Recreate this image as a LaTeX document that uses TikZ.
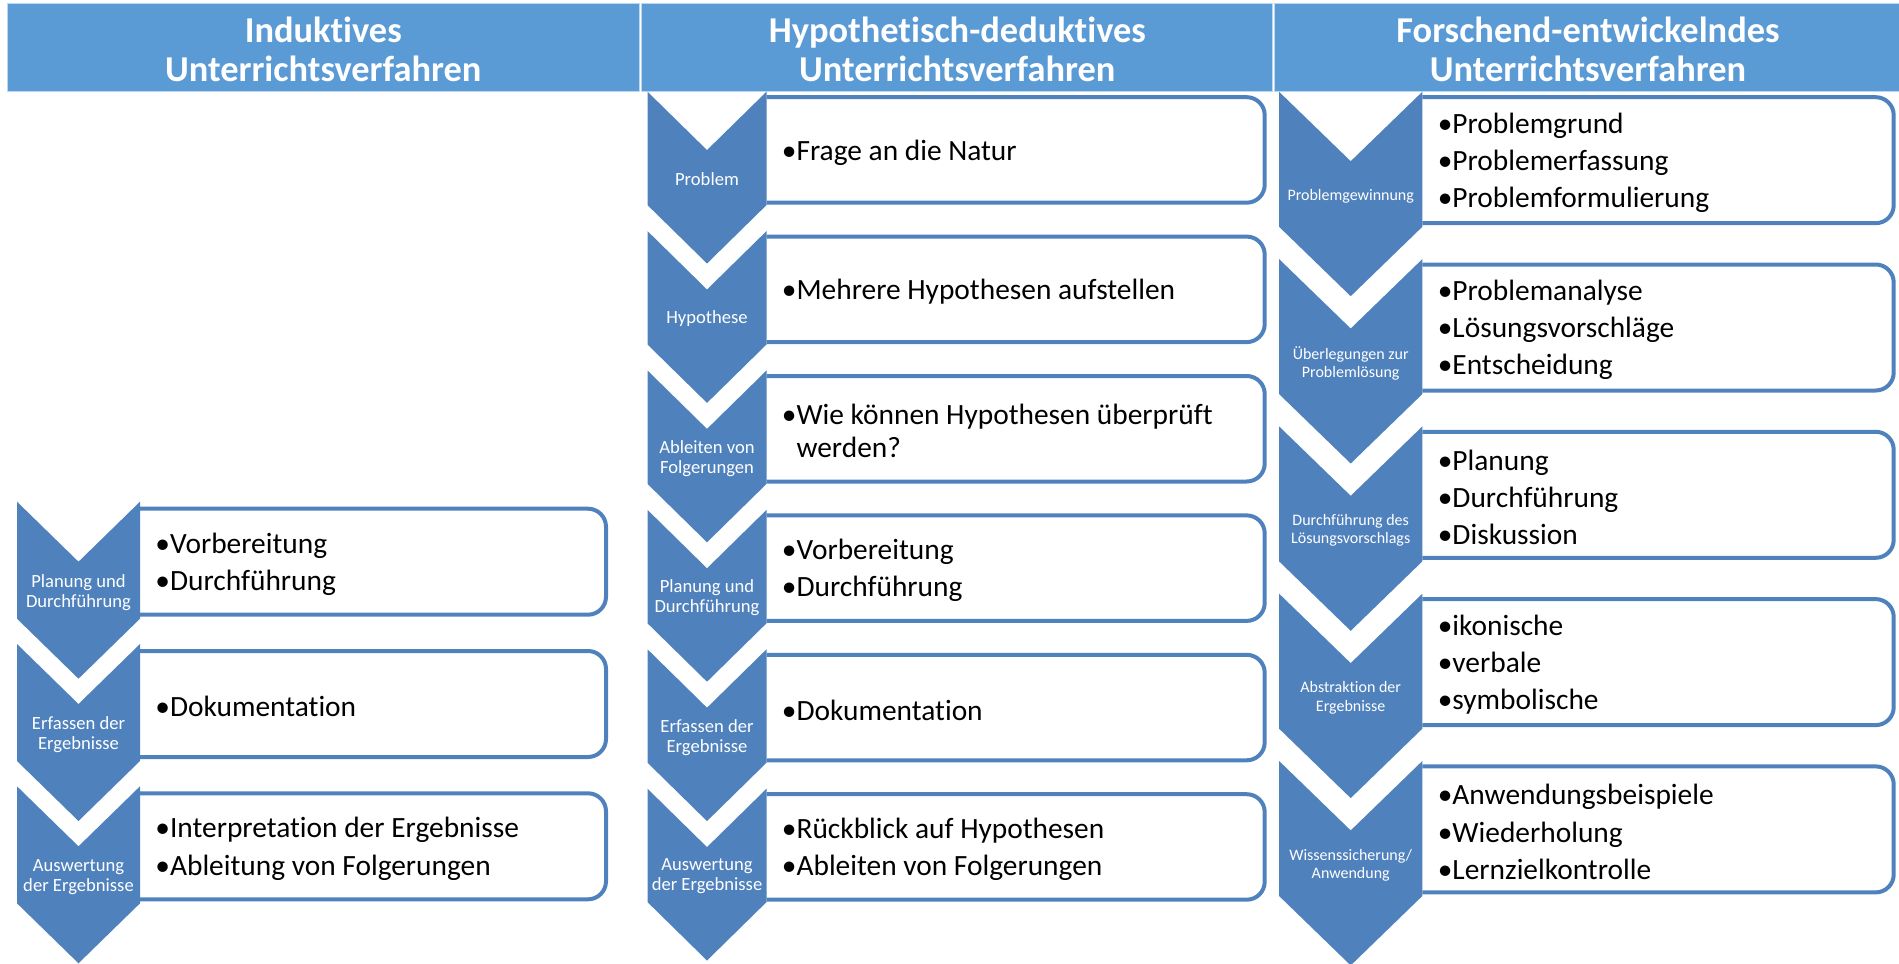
\documentclass[tikz,border=0pt]{standalone}
\usepackage{fontspec}
\setmainfont{Carlito}[Ligatures=NoCommon]

\definecolor{chevblue}{HTML}{4F81BD}
\definecolor{hdrblue}{HTML}{5B9BD5}
\definecolor{hdredge}{HTML}{BDD7EE}

% column geometry (set per column before drawing its stages)
\def\colL{0}\def\colR{0}\def\boxR{0}\def\topY{0}\def\stepY{0}
\def\chDep{0}\def\chBody{0}\def\bxTop{0}\def\bxBot{0}
\def\lblfont{\fontsize{9.3}{10}\selectfont}

% one stage: box with items, chevron with label on top
% #1 name, #2 index in column, #3 chevron label, #4 items
\newcommand{\stage}[4]{%
  \pgfmathsetmacro\yt{\topY+#2*\stepY}%
  \pgfmathsetmacro\xm{(\colL+\colR)/2}%
  \draw[boxline] (\colR,\yt+\bxTop) -- (\boxR,\yt+\bxTop) -- (\boxR,\yt+\bxBot) -- (\colR,\yt+\bxBot);
  \fill[chevblue] (\colL,\yt) -- (\xm,\yt+\chDep) -- (\colR,\yt) -- (\colR,\yt+\chBody)
     -- (\xm,\yt+\chBody+\chDep) -- (\colL,\yt+\chBody) -- cycle;
  \node[lbl] (#1-l) at (\xm,{\yt+(\chDep+\chBody)/2+2}) {#3};
  \node[items] (#1-t) at (\colR+15,{\yt+(\bxTop+\bxBot)/2+2.5}) {#4};
}

\begin{document}
\begin{tikzpicture}[x=0.5pt,y=-0.5pt,
  boxline/.style={draw=chevblue,line width=2pt,rounded corners=9pt},
  lbl/.style={text=white,font=\lblfont,align=center,inner sep=0pt},
  items/.style={anchor=west,align=left,inner sep=0pt,
    font=\fontsize{14.7}{16.4}\selectfont},
  hdrbox/.style={fill=hdrblue,draw=hdredge,line width=0.5pt},
  hdrtext/.style={text=white,align=center,inner sep=0pt,
    font=\bfseries\fontsize{18.2}{19.5}\selectfont}]

\useasboundingbox (0,0) rectangle (1899,963);
\clip (0,0) rectangle (1899,963);

% header row
\draw[hdrbox] (7.6,4) rectangle (639,92);
\draw[hdrbox] (641.8,4) rectangle (1272.7,92);
\draw[hdrbox] (1274.7,4) rectangle (1899.5,92);
\node[hdrtext] (h1) at (323.3,49) {Induktives\\Unterrichtsverfahren};
\node[hdrtext] (h2) at (957.3,49) {Hypothetisch-deduktives\\Unterrichtsverfahren};
\node[hdrtext] (h3) at (1588,49) {Forschend-entwickelndes\\Unterrichtsverfahren};

% inductive method
\def\colL{17}\def\colR{140}\def\boxR{606}\def\topY{501.7}\def\stepY{142.3}
\def\chDep{60}\def\chBody{117}\def\bxTop{7}\def\bxBot{113}
\def\lblfont{\fontsize{9.3}{10}\selectfont}
\stage{ia}{0}{Planung und\\Durchführung}{•Vorbereitung\\[2.2pt]•Durchführung}
\stage{ib}{1}{Erfassen der\\Ergebnisse}{•Dokumentation}
\stage{ic}{2}{Auswertung\\der Ergebnisse}{•Interpretation der Ergebnisse\\[2.2pt]•Ableitung von Folgerungen}

% hypothetico-deductive method
\def\colL{647.5}\def\colR{766.5}\def\boxR{1264.7}\def\topY{91.7}\def\stepY{139.4}
\def\chDep{58.4}\def\chBody{113.4}\def\bxTop{5.5}\def\bxBot{111}
\stage{ha}{0}{Problem}{•Frage an die Natur}
\stage{hb}{1}{Hypothese}{•Mehrere Hypothesen aufstellen}
\stage{hc}{2}{Ableiten von\\Folgerungen}{•Wie können Hypothesen überprüft\\\phantom{•}werden?}
\stage{hd}{3}{Planung und\\Durchführung}{•Vorbereitung\\[2.2pt]•Durchführung}
\stage{he}{4}{Erfassen der\\Ergebnisse}{•Dokumentation}
\stage{hf}{5}{Auswertung\\der Ergebnisse}{•Rückblick auf Hypothesen\\[2.2pt]•Ableiten von Folgerungen}

% research-based method
\def\colL{1279}\def\colR{1422.4}\def\boxR{1893.7}\def\topY{91.7}\def\stepY{167.3}
\def\chDep{69.5}\def\chBody{135}\def\bxTop{5.5}\def\bxBot{131.5}
\def\lblfont{\fontsize{8}{9.1}\selectfont}
\stage{fa}{0}{Problemgewinnung}{•Problemgrund\\[2.2pt]•Problemerfassung\\[2.2pt]•Problemformulierung}
\stage{fb}{1}{Überlegungen zur\\Problemlösung}{•Problemanalyse\\[2.2pt]•Lösungsvorschläge\\[2.2pt]•Entscheidung}
\stage{fc}{2}{Durchführung des\\Lösungsvorschlags}{•Planung\\[2.2pt]•Durchführung\\[2.2pt]•Diskussion}
\stage{fd}{3}{Abstraktion der\\Ergebnisse}{•ikonische\\[2.2pt]•verbale\\[2.2pt]•symbolische}
\stage{fe}{4}{Wissenssicherung/\\Anwendung}{•Anwendungsbeispiele\\[2.2pt]•Wiederholung\\[2.2pt]•Lernzielkontrolle}

\end{tikzpicture}
\end{document}
